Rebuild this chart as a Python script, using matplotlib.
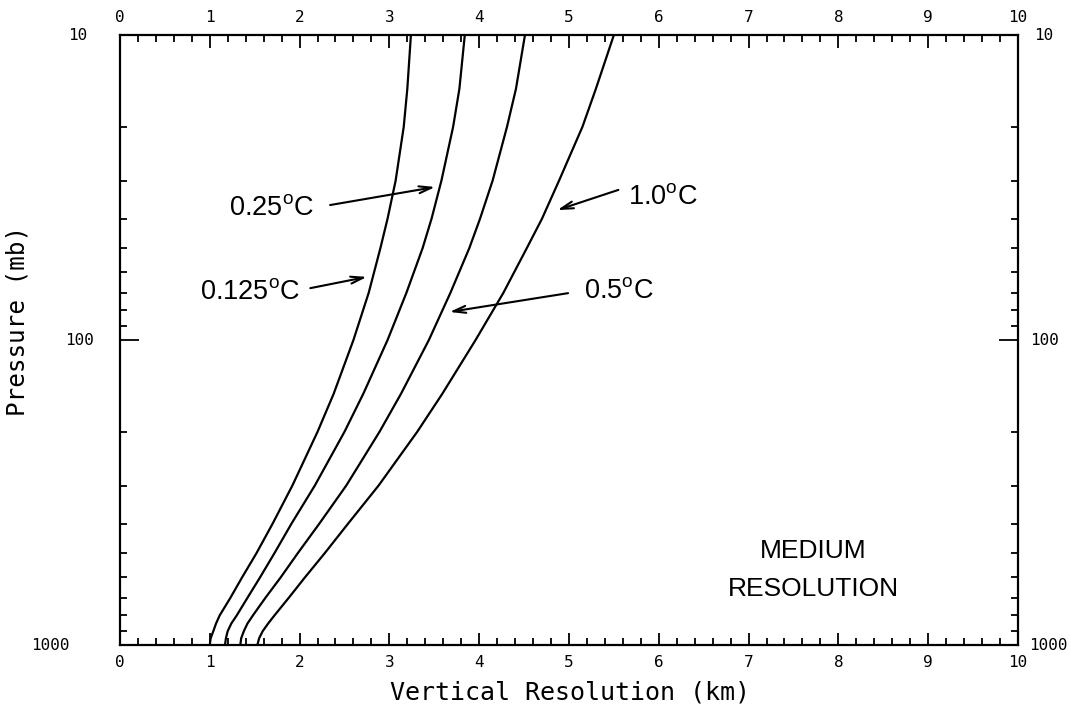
import numpy as np
import matplotlib
matplotlib.use("Agg")
import matplotlib.pyplot as plt
from matplotlib.ticker import FixedLocator, MultipleLocator, NullFormatter

# pressure levels (mb) and vertical resolution (km) for each noise level
pressure = [10, 15, 20, 30, 40, 50, 70, 100, 150, 200, 300, 400, 500,
            600, 700, 800, 850, 900, 950, 1000]
res_0125 = [3.24, 3.20, 3.16, 3.07, 2.98, 2.90, 2.77, 2.60, 2.38, 2.20,
            1.92, 1.70, 1.52, 1.36, 1.23, 1.11, 1.07, 1.04, 1.01, 1.00]
res_025  = [3.84, 3.78, 3.71, 3.58, 3.47, 3.37, 3.19, 2.98, 2.71, 2.50,
            2.17, 1.91, 1.72, 1.56, 1.42, 1.30, 1.24, 1.20, 1.18, 1.17]
res_05   = [4.51, 4.41, 4.31, 4.15, 4.01, 3.89, 3.68, 3.44, 3.13, 2.89,
            2.52, 2.22, 1.98, 1.79, 1.62, 1.48, 1.42, 1.38, 1.35, 1.34]
res_10   = [5.50, 5.30, 5.15, 4.89, 4.70, 4.53, 4.27, 3.96, 3.59, 3.31,
            2.88, 2.54, 2.28, 2.06, 1.88, 1.72, 1.65, 1.59, 1.55, 1.53]

x_ticks = list(range(0, 11))
y_ticks = [10, 100, 1000]
y_tick_labels = ["10", "100", "1000"]

mono = "DejaVu Sans Mono"
sans = "Liberation Sans"
plt.rcParams["mathtext.fontset"] = "custom"
plt.rcParams["mathtext.rm"] = sans
plt.rcParams["mathtext.sf"] = sans

fig = plt.figure(figsize=(10.71, 7.10), dpi=100)
ax = fig.add_axes([0.1120, 0.0915, 0.8385, 0.8592])

for series in (res_0125, res_025, res_05, res_10):
    ax.plot(series, pressure, color="black", lw=1.6)

ax.set_yscale("log")
ax.set_xlim(0, 10)
ax.set_ylim(1000, 10)

# ── ticks ────────────────────────────────────────────────────────────────
ax.xaxis.set_major_locator(FixedLocator(x_ticks))
ax.xaxis.set_minor_locator(MultipleLocator(0.2))
ax.yaxis.set_major_locator(FixedLocator(y_ticks))
minor_y = [m * d for d in (10, 100) for m in range(2, 10)]
ax.yaxis.set_minor_locator(FixedLocator(minor_y))
ax.yaxis.set_major_formatter(NullFormatter())
ax.yaxis.set_minor_formatter(NullFormatter())

ax.tick_params(axis="both", which="both", direction="in",
               top=True, right=True, width=1.3, colors="black")
ax.tick_params(axis="x", which="major", length=9, labeltop=True,
               labelsize=11.5, pad=7)
ax.tick_params(axis="x", which="minor", length=5)
ax.tick_params(axis="y", which="major", length=14)
ax.tick_params(axis="y", which="minor", length=5)
for lab in ax.get_xticklabels():
    lab.set_fontfamily(mono)

# pressure labels on both sides (plotter style, slightly staggered)
ytr = ax.get_yaxis_transform()
left_x = [-0.047, -0.045, -0.078]
right_x = [1.029, 1.030, 1.034]
for val, lab, lx, rx in zip(y_ticks, y_tick_labels, left_x, right_x):
    ax.text(lx, val, lab, transform=ytr, ha="center", va="center",
            fontfamily=mono, fontsize=11.5, clip_on=False)
    ax.text(rx, val, lab, transform=ytr, ha="center", va="center",
            fontfamily=mono, fontsize=11.5, clip_on=False)

for sp in ax.spines.values():
    sp.set_linewidth(1.6)

ax.set_xlabel("Vertical Resolution (km)", fontfamily=mono, fontsize=18)
ax.xaxis.label.set_va("center")
ax.xaxis.set_label_coords(0.501, -0.077)
ax.set_ylabel("Pressure (mb)", fontfamily=mono, fontsize=17.5)
ax.yaxis.label.set_va("center")
ax.yaxis.set_label_coords(-0.1136, 0.531)

# ── curve labels ─────────────────────────────────────────────────────────
arrow = dict(arrowstyle="->, head_length=0.9, head_width=0.25",
             color="black", lw=1.5, shrinkA=0, shrinkB=0)
deg = r"$^{\mathsf{o}}$"
labels = [
    ("0.25" + deg + "C",  (1.69, 36.9), (2.34, 36.1), (3.51, 31.5)),
    ("0.125" + deg + "C", (1.45, 69.6), (2.12, 67.6), (2.75, 62.1)),
    ("1.0" + deg + "C",   (6.05, 33.9), (5.55, 32.2), (4.87, 37.5)),
    ("0.5" + deg + "C",   (5.56, 69.0), (4.99, 70.2), (3.67, 80.9)),
]
for text, pos, tail, tip in labels:
    ax.text(pos[0], pos[1], text, ha="center", va="center",
            fontfamily=sans, fontsize=19.5)
    ax.annotate("", xy=tip, xytext=tail, arrowprops=arrow)

ax.text(7.72, 492, "MEDIUM", ha="center", va="center",
        fontfamily=sans, fontsize=19)
ax.text(7.72, 655, "RESOLUTION", ha="center", va="center",
        fontfamily=sans, fontsize=19)

fig.savefig("out.png", dpi=100)
